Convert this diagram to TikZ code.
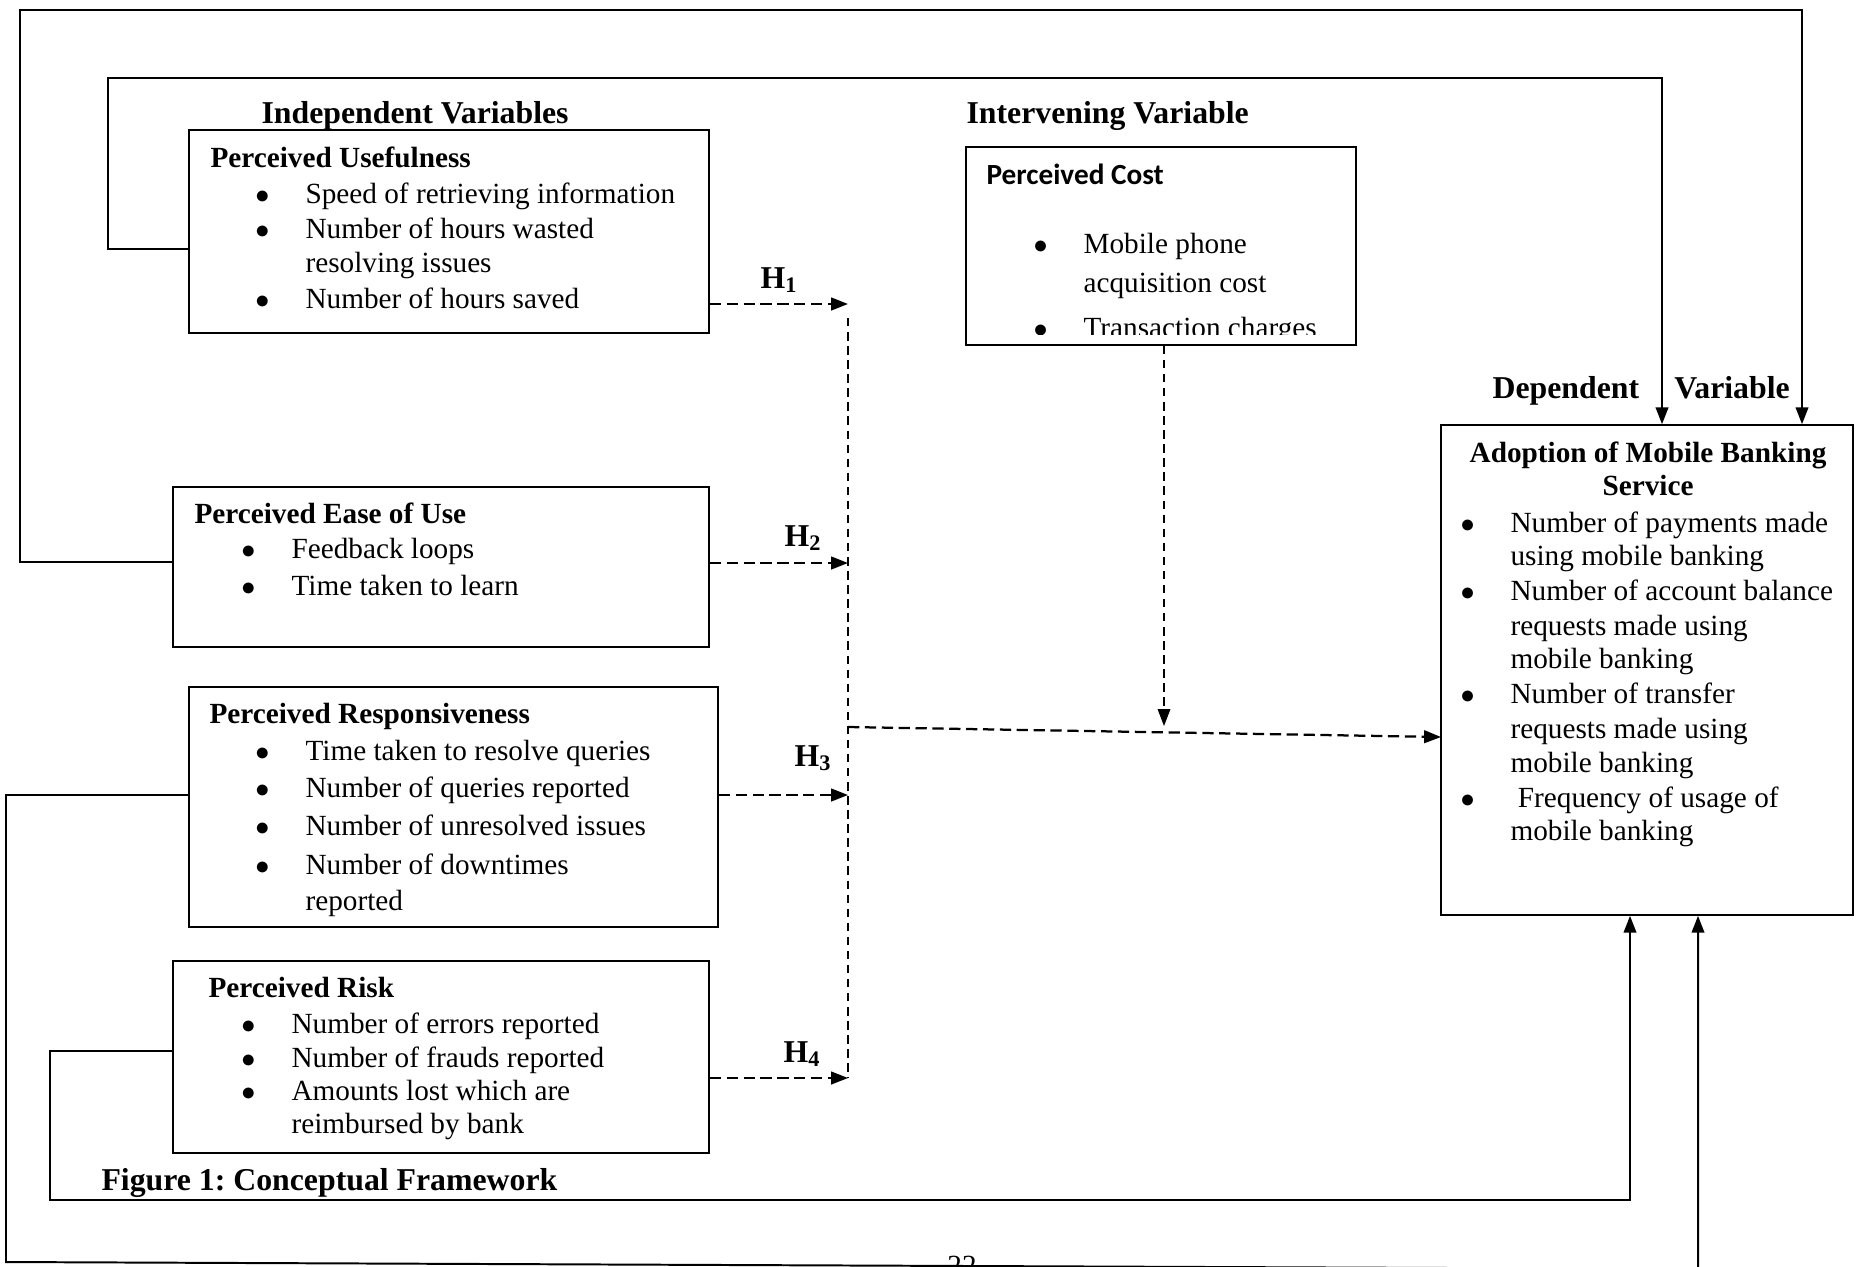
\documentclass[tikz,border=0pt]{standalone}
\usepackage{fontspec}
\setmainfont{Liberation Serif}
\newfontfamily\calibri{Carlito}
\usetikzlibrary{arrows.meta,fit}

\newcommand{\bul}{\llap{$\bullet$\hspace{0.45cm}}}

\tikzset{
  box/.style={draw, line width=0.6pt, inner sep=0pt},
  head/.style={anchor=base west, inner sep=0pt, font=\fontsize{11.3}{13.5}\selectfont\bfseries},
  title/.style={anchor=base west, inner sep=0pt, font=\fontsize{10.4}{12.5}\selectfont\bfseries},
  item/.style={anchor=base west, inner sep=0pt, font=\fontsize{10.4}{12.5}\selectfont},
  link/.style={line width=0.7pt, -{Triangle[length=6pt,width=4.5pt]}},
  hyp/.style={line width=0.8pt, dash pattern=on 4pt off 2pt, -{Triangle[length=6pt,width=4.5pt]}},
  guide/.style={line width=0.4pt, dash pattern=on 3pt off 2pt},
}

\begin{document}
\frenchspacing
\begin{tikzpicture}[x=0.0125cm,y=-0.0125cm]
    \useasboundingbox (0,0) rectangle (1860,1266);

    % boxes
    \node[box, fit={(189,130) (709,333)}] (pu) {};
    \node[box, fit={(173,487) (709,647)}] (peu) {};
    \node[box, fit={(189,687) (718,927)}] (pr) {};
    \node[box, fit={(173,961) (709,1153)}] (risk) {};
    \node[box, fit={(966,147) (1356,345)}] (cost) {};
    \node[box, fit={(1441,425) (1853,915)}] (adopt) {};

    % headings
    \node[head] (indep) at (261,123) {Independent Variables};
    \node[head] (interv) at (966,123) {Intervening Variable};
    \node[head] (dep) at (1492,398) {Dependent\hspace{0.44cm}Variable};
    \node[head] (caption) at (101,1190) {Figure 1: Conceptual Framework};

    % perceived usefulness
    \node[title] (pu-t) at (210,167) {Perceived Usefulness};
    \node[item] (pu-1) at (305,203) {\bul Speed of retrieving information};
    \node[item] (pu-2) at (305,238) {\bul Number of hours wasted};
    \node[item] (pu-3) at (305,272) {resolving issues};
    \node[item] (pu-4) at (305,308) {\bul Number of hours saved};

    % perceived ease of use
    \node[title] (peu-t) at (194,523) {Perceived Ease of Use};
    \node[item] (peu-1) at (291,558) {\bul Feedback loops};
    \node[item] (peu-2) at (291,595) {\bul Time taken to learn};

    % perceived responsiveness
    \node[title] (pr-t) at (209,723) {Perceived Responsiveness};
    \node[item] (pr-1) at (305,760) {\bul Time taken to resolve queries};
    \node[item] (pr-2) at (305,797) {\bul Number of queries reported};
    \node[item] (pr-3) at (305,835) {\bul Number of unresolved issues};
    \node[item] (pr-4) at (305,874) {\bul Number of downtimes};
    \node[item] (pr-5) at (305,910) {reported};

    % perceived risk
    \node[title] (risk-t) at (208,997) {Perceived Risk};
    \node[item] (risk-1) at (291,1033) {\bul Number of errors reported};
    \node[item] (risk-2) at (291,1067) {\bul Number of frauds reported};
    \node[item] (risk-3) at (291,1100) {\bul Amounts lost which are};
    \node[item] (risk-4) at (291,1133) {reimbursed by bank};

    % perceived cost
    \node[title, font=\fontsize{10.4}{12.5}\selectfont\calibri\bfseries] (cost-t) at (986,184) {Perceived Cost};
    \node[item] (cost-1) at (1083,253) {\bul Mobile phone};
    \node[item] (cost-2) at (1083,292) {acquisition cost};
    \begin{scope}
      \clip (966,147) rectangle (1356,334);
      \node[item] (cost-3) at (1083,337) {\bul Transaction charges};
    \end{scope}

    % adoption
    \node[title, anchor=base] (ad-t1) at (1648,462) {Adoption of Mobile Banking};
    \node[title, anchor=base] (ad-t2) at (1648,495) {Service};
    \node[item] (ad-1) at (1510,532) {\bul Number of payments made};
    \node[item] (ad-2) at (1510,565) {using mobile banking};
    \node[item] (ad-3) at (1510,600) {\bul Number of account balance};
    \node[item] (ad-4) at (1510,635) {requests made using};
    \node[item] (ad-5) at (1510,668) {mobile banking};
    \node[item] (ad-6) at (1510,703) {\bul Number of transfer};
    \node[item] (ad-7) at (1510,738) {requests made using};
    \node[item] (ad-8) at (1510,772) {mobile banking};
    \node[item] (ad-9) at (1510,807) {\bul\ Frequency of usage of};
    \node[item] (ad-10) at (1510,840) {mobile banking};

    % hypotheses
    \node[head] (h1) at (760,288) {H\textsubscript{1}};
    \node[head] (h2) at (784,546) {H\textsubscript{2}};
    \node[head] (h3) at (794,766) {H\textsubscript{3}};
    \node[head] (h4) at (783,1062) {H\textsubscript{4}};

    \node[item, anchor=base] (pg) at (962,1275) {22};

    % dashed paths
    \coordinate (j1) at (848,304);
    \coordinate (j2) at (848,563);
    \coordinate (j3) at (848,795);
    \coordinate (j4) at (848,1078);
    \coordinate (vtop) at (848,318);
    \coordinate (mid) at (848,727);
    \coordinate (adin) at (1441,737);
    \coordinate (cj) at (1164,726);

    \draw[hyp] (pu.east |- j1) -- (j1);
    \draw[hyp] (peu.east |- j2) -- (j2);
    \draw[hyp] (pr.east |- j3) -- (j3);
    \draw[hyp] (risk.east |- j4) -- (j4);
    \draw[guide] (vtop) -- (j4);
    \draw[hyp] (mid) -- (adin);
    \draw[guide, -{Triangle[length=6pt,width=4.5pt]}] (cost.south -| cj) -- (cj);

    % solid paths
    \coordinate (c1a) at (20,10);
    \coordinate (c1b) at (1802,10);
    \coordinate (c2a) at (108,78);
    \coordinate (c2b) at (1662,78);
    \coordinate (c3a) at (6,1262);
    \coordinate (c3b) at (1698,1269);
    \coordinate (c4a) at (50,1200);
    \coordinate (c4b) at (1630,1200);

    \draw[link] ([yshift=0.06cm]peu.west) -| (c1a) -- (c1b) -- (c1b |- adopt.north);
    \draw[link] ([yshift=-0.22cm]pu.west) -| (c2a) -- (c2b) -- (c2b |- adopt.north);
    \draw[link] ([yshift=0.15cm]pr.west) -| (c3a) -- (c3b) -- (c3b |- adopt.south);
    \draw[link] ([yshift=0.07cm]risk.west) -| (c4a) -- (c4b) -- (c4b |- adopt.south);
\end{tikzpicture}
\end{document}
